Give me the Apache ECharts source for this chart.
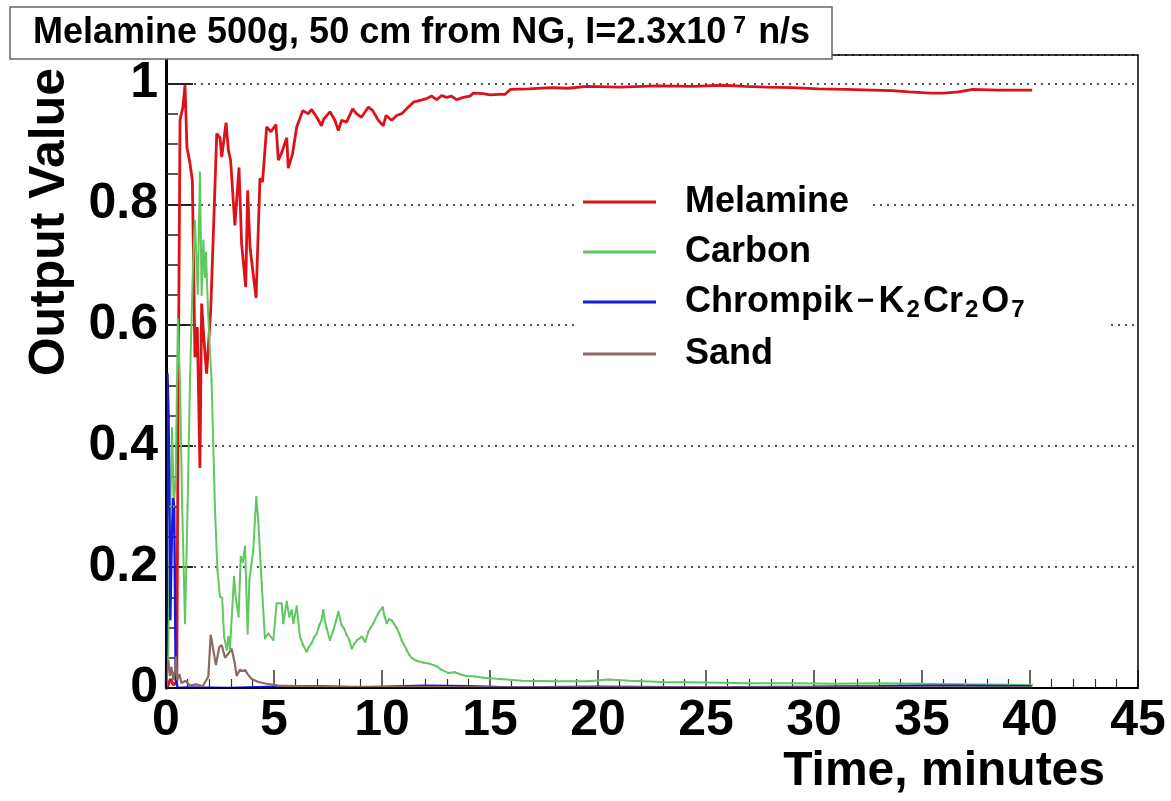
<!DOCTYPE html>
<html>
<head>
<meta charset="utf-8">
<script src="https://cdn.jsdelivr.net/npm/echarts@6/dist/echarts.min.js"></script>
<style>html,body{margin:0;padding:0;background:#fff}#c{width:1171px;height:801px}</style>
</head>
<body>
<div id="c"></div>
<script>
// ---- data: [time (minutes), output value] ----
const melamine = [[0.05,0.0],[0.2,0.015],[0.35,0.005],[0.5,0.01],[0.56,0.45],[0.65,0.94],[0.78,0.96],[0.88,0.997],[0.97,0.894],[1.1,0.87],[1.22,0.84],[1.34,0.547],[1.45,0.597],[1.57,0.364],[1.65,0.636],[1.75,0.58],[1.88,0.52],[2.07,0.625],[2.35,0.917],[2.5,0.91],[2.58,0.878],[2.78,0.935],[2.89,0.889],[2.99,0.873],[3.19,0.765],[3.38,0.861],[3.5,0.735],[3.69,0.663],[3.78,0.823],[3.89,0.729],[4.17,0.645],[4.35,0.843],[4.47,0.837],[4.66,0.928],[4.86,0.92],[5.09,0.932],[5.2,0.873],[5.36,0.886],[5.59,0.91],[5.66,0.86],[5.86,0.884],[6.05,0.928],[6.33,0.955],[6.59,0.95],[6.74,0.957],[6.98,0.944],[7.2,0.93],[7.3,0.941],[7.59,0.953],[7.82,0.939],[7.98,0.922],[8.13,0.939],[8.36,0.936],[8.64,0.958],[8.82,0.95],[9.05,0.944],[9.37,0.961],[9.57,0.955],[9.83,0.939],[10.06,0.93],[10.19,0.947],[10.45,0.939],[10.68,0.947],[10.91,0.95],[11.14,0.958],[11.45,0.969],[11.76,0.972],[12.07,0.975],[12.3,0.979],[12.53,0.973],[12.76,0.98],[12.99,0.977],[13.22,0.979],[13.45,0.973],[13.76,0.977],[14.07,0.979],[14.23,0.984],[14.69,0.983],[15.0,0.981],[15.4,0.982],[15.7,0.982],[15.94,0.99],[16.8,0.991],[17.84,0.993],[18.6,0.992],[19.5,0.995],[21,0.994],[22.8,0.996],[24.4,0.995],[25.8,0.997],[26.8,0.995],[27.8,0.994],[29,0.993],[30.2,0.991],[31.5,0.99],[32.7,0.989],[33.6,0.988],[34.4,0.986],[35.4,0.984],[36.0,0.984],[36.7,0.986],[37.35,0.99],[38.5,0.989],[40.1,0.989]];
const carbon = [[0.02,0.0],[0.1,0.05],[0.2,0.3],[0.28,0.43],[0.36,0.3],[0.45,0.35],[0.55,0.61],[0.65,0.5],[0.75,0.3],[0.88,0.107],[1.0,0.3],[1.11,0.51],[1.25,0.7],[1.34,0.773],[1.47,0.652],[1.57,0.853],[1.65,0.65],[1.73,0.74],[1.8,0.68],[1.85,0.72],[1.95,0.62],[2.04,0.553],[2.11,0.509],[2.27,0.294],[2.38,0.195],[2.5,0.151],[2.6,0.149],[2.69,0.085],[2.81,0.063],[2.89,0.085],[2.96,0.063],[3.15,0.184],[3.24,0.146],[3.36,0.118],[3.46,0.217],[3.55,0.208],[3.66,0.234],[3.78,0.09],[3.86,0.178],[4.04,0.228],[4.18,0.316],[4.27,0.277],[4.43,0.173],[4.58,0.082],[4.74,0.09],[4.97,0.079],[5.12,0.14],[5.35,0.14],[5.43,0.107],[5.59,0.143],[5.71,0.118],[5.82,0.129],[5.9,0.107],[6.05,0.135],[6.2,0.085],[6.36,0.07],[6.51,0.06],[6.62,0.068],[6.74,0.074],[6.86,0.084],[6.98,0.09],[7.1,0.104],[7.2,0.112],[7.28,0.129],[7.36,0.11],[7.44,0.099],[7.59,0.079],[7.75,0.096],[7.88,0.112],[7.98,0.126],[8.13,0.104],[8.25,0.098],[8.36,0.088],[8.48,0.08],[8.6,0.065],[8.72,0.073],[8.84,0.079],[9.07,0.085],[9.22,0.076],[9.37,0.093],[9.48,0.1],[9.6,0.107],[9.72,0.116],[9.83,0.124],[10.03,0.134],[10.12,0.118],[10.22,0.107],[10.33,0.114],[10.45,0.112],[10.56,0.106],[10.68,0.099],[10.8,0.09],[10.91,0.079],[11.02,0.072],[11.14,0.063],[11.26,0.055],[11.37,0.05],[11.6,0.045],[11.91,0.042],[12.22,0.04],[12.53,0.036],[12.76,0.03],[13.07,0.025],[13.38,0.026],[13.65,0.022],[13.92,0.02],[14.3,0.019],[14.69,0.017],[15.45,0.015],[16.5,0.012],[18,0.011],[19.5,0.011],[20.5,0.014],[21.5,0.012],[23,0.01],[25,0.009],[27,0.008],[29,0.008],[31,0.007],[33,0.008],[35,0.007],[37,0.006],[40.1,0.005]];
const chrompik = [[0.0,0.0],[0.04,0.0],[0.07,0.52],[0.12,0.45],[0.2,0.112],[0.27,0.25],[0.33,0.314],[0.38,0.3],[0.45,0.013],[0.55,0.0],[1,0.001],[3,0.0],[5,0.002],[7,0.003],[9,0.001],[12,0.004],[14,0.003],[16,0.001],[20,0.002],[25,0.001],[30,0.002],[33,0.003],[35,0.004],[37,0.004],[40.1,0.003]];
const sand = [[0.0,0.01],[0.05,0.03],[0.11,0.046],[0.18,0.02],[0.25,0.035],[0.34,0.013],[0.42,0.03],[0.46,0.052],[0.52,0.013],[0.62,0.023],[0.72,0.008],[0.9,0.012],[1.1,0.004],[1.4,0.006],[1.7,0.003],[1.96,0.019],[2.07,0.088],[2.19,0.063],[2.31,0.038],[2.47,0.068],[2.58,0.071],[2.73,0.05],[2.89,0.057],[3.04,0.065],[3.19,0.04],[3.27,0.02],[3.42,0.03],[3.55,0.028],[3.66,0.03],[3.78,0.023],[3.97,0.015],[4.27,0.01],[4.66,0.007],[5.2,0.004],[6,0.003],[8,0.002],[10,0.002],[15,0.001],[20,0.001],[30,0.001],[40.1,0.001]];
const seriesNames = ['Melamine','Carbon','Chrompik-K2Cr2O7','Sand'];
const titleText = 'Melamine 500g, 50 cm from NG, I=2.3x10';
const xTitle = 'Time, minutes';
const yTitle = 'Output Value';

const FONT = "'Liberation Sans', Arial, sans-serif";

const chart = echarts.init(document.getElementById('c'));
const G = {left:166, right:33, top:55, bottom:113, containLabel:false, outerBoundsMode:'none'};

function lineSeries(name, data, color, width, sym) {
  return {
    name, type:'line', data,
    showSymbol: !!sym, symbol:'circle', symbolSize: sym || 0,
    itemStyle:{color: color}, lineStyle:{color, width},
    emphasis:{disabled:true}, animation:false, z: 3
  };
}

chart.setOption({
  backgroundColor:'#fff',
  animation:false,
  grid: G,
  title: {
    text: '{a|' + titleText + '}{s|7}{a| n/s}',
    left: 10, top: 7,
    padding:[8, 22, 8, 23],
    borderColor:'#666', borderWidth:1.5,
    backgroundColor:'#fff',
    z: 12,
    textStyle:{ rich:{
      a:{fontFamily:FONT, fontWeight:'bold', fontSize:36, color:'#000', lineHeight:36},
      s:{fontFamily:FONT, fontWeight:'bold', fontSize:23, color:'#000', lineHeight:22, verticalAlign:'top', padding:[0,2,0,7]}
    }}
  },
  legend: {
    orient:'vertical', left:583, top:184,
    itemWidth:73, itemHeight:3, itemGap:14,
    icon:'rect',
    padding:0,
    selectedMode:false,
    data: seriesNames,
    formatter: function(n){
      if (n.indexOf('Chrompik')===0) return '{t|Chrompik}{m|\u2212}{t|K}{s|2}{t|Cr}{s|2}{t|O}{s|7}';
      return '{t|' + n + '}';
    },
    textStyle:{
      padding:[0,0,0,24],
      rich:{
        t:{fontFamily:FONT, fontWeight:'bold', fontSize:36, color:'#000', lineHeight:40},
        m:{fontFamily:FONT, fontWeight:'bold', fontSize:30, color:'#000', lineHeight:40, padding:[0,4,0,4]},
        s:{fontFamily:FONT, fontWeight:'bold', fontSize:24, color:'#000', lineHeight:24, verticalAlign:'bottom', padding:[0,3,0,2]}
      }
    }
  },
  xAxis: {
    type:'value', min:0, max:45, interval:5,
    axisLine:{show:true, lineStyle:{color:'#000', width:2}},
    axisTick:{show:true, inside:true, length:18, lineStyle:{color:'#333', width:1.5}},
    minorTick:{show:true, splitNumber:5, length:9, lineStyle:{color:'#333', width:1.2}},
    splitLine:{show:false},
    axisLabel:{fontFamily:FONT, fontWeight:'bold', fontSize:50, color:'#000', margin:8},
    name: xTitle, nameLocation:'end', nameGap:-33,
    nameTextStyle:{fontFamily:FONT, fontWeight:'bold', fontSize:48, color:'#000', align:'right', verticalAlign:'top', padding:[60,0,0,0]}
  },
  yAxis: {
    type:'value', min:0, max:1.047, interval:0.2,
    axisLine:{show:true, lineStyle:{color:'#000', width:3}},
    axisTick:{show:true, inside:true, length:27, lineStyle:{color:'#222', width:2}},
    minorTick:{show:true, splitNumber:4, length:12, lineStyle:{color:'#222', width:1.5}},
    splitLine:{show:true, lineStyle:{color:'#555', width:2, type:[2,5]}},
    axisLabel:{fontFamily:FONT, fontWeight:'bold', fontSize:50, color:'#000', margin:8,
      showMaxLabel:false,
      formatter:function(v){ if (v>1.001) return ''; if (Math.abs(v)<1e-9) return '0'; if (Math.abs(v-1)<1e-9) return '1'; return v.toFixed(1);} }
  },
  graphic: [
    // white legend panel (covers grid lines behind legend rows)
    {type:'rect', shape:{x:574, y:176, width:298, height:50}, style:{fill:'#fff'}, z:1, silent:true},
    {type:'rect', shape:{x:574, y:226, width:534, height:150}, style:{fill:'#fff'}, z:1, silent:true},
    {type:'rect', shape:{x:166, y:55, width:1171-166-33, height:801-55-113}, style:{fill:null, stroke:'#000', lineWidth:1.5}, z:10, silent:true},
    {type:'text', x:50, y:68, rotation:Math.PI/2, style:{text:yTitle, font:"bold 50px 'Liberation Sans', Arial, sans-serif", fill:'#000', textAlign:'right', textVerticalAlign:'middle'}, z:10}
  ],
  series: [
    lineSeries(seriesNames[0], melamine, '#dc1219', 2.8, 0),
    lineSeries(seriesNames[1], carbon, '#5fc85f', 2, 2.2),
    lineSeries(seriesNames[2], chrompik, '#1818e0', 2.4, 0),
    lineSeries(seriesNames[3], sand, '#8a6a62', 2.2, 0)
  ]
});
</script>
</body>
</html>
